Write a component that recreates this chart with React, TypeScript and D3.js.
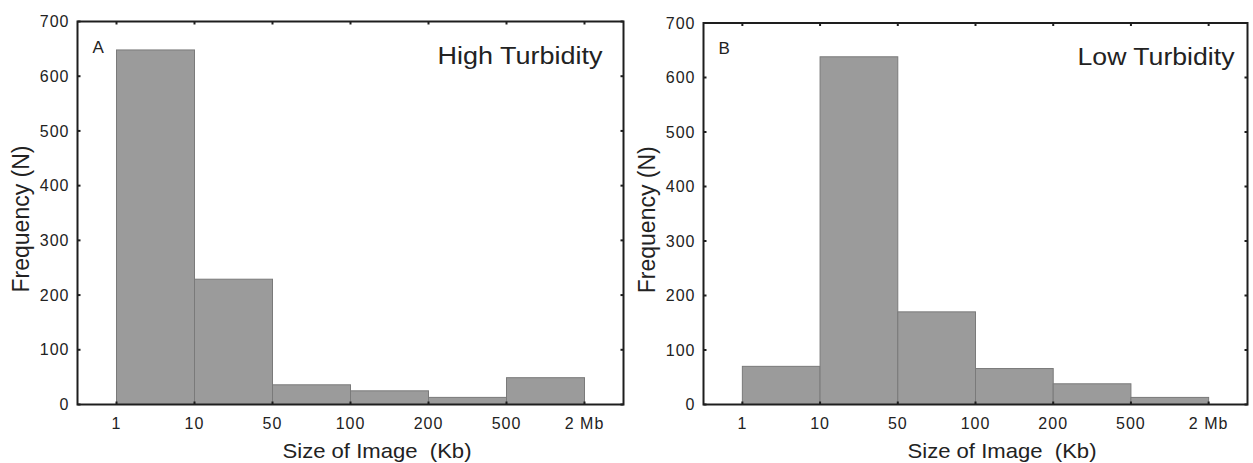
import React from 'react';
import * as d3 from 'd3';

// bin edges shown on the x axis
const sizeLabels = ['1', '10', '50', '100', '200', '500', '2 Mb'];
// counts per bin (between consecutive edges)
const highTurbidity = [648, 229, 36, 25, 13, 49];
const lowTurbidity = [70, 638, 170, 66, 38, 13];
const yTicks = [0, 100, 200, 300, 400, 500, 600, 700];

const FONT = 'Arial, "Liberation Sans", sans-serif';

type PanelProps = {
    values: number[];
    letter: string;
    title: string;
    titleWidth: number;
    left: number;
    right: number;
    top: number;
    bottom: number;
    titleGap: number;
};

function Panel({ values, letter, title, titleWidth, left, right, top, bottom, titleGap }: PanelProps) {
    const x = d3.scaleLinear().domain([-0.5, sizeLabels.length - 0.5]).range([left, right]);
    const y = d3.scaleLinear().domain([0, 700]).range([bottom, top]);
    const tick = 3;

    return (
        <g fontFamily={FONT} fill="#222">
            {/* bars */}
            {values.map((v, i) => (
                <rect
                    key={i}
                    x={x(i)}
                    y={y(v)}
                    width={x(i + 1) - x(i)}
                    height={y(0) - y(v)}
                    fill="#9b9b9b"
                    stroke="#7a7a7a"
                    strokeWidth={1}
                />
            ))}

            {/* frame */}
            <rect x={left} y={top} width={right - left} height={bottom - top}
                fill="none" stroke="#1e1e1e" strokeWidth={2} />

            {/* x ticks, top and bottom, pointing inward */}
            {sizeLabels.map((lab, i) => (
                <g key={lab}>
                    <line x1={x(i)} x2={x(i)} y1={bottom} y2={bottom - tick} stroke="#1e1e1e" strokeWidth={2} />
                    <line x1={x(i)} x2={x(i)} y1={top} y2={top + tick} stroke="#1e1e1e" strokeWidth={2} />
                    <text x={x(i)} y={y(0) + 24} textAnchor="middle" fontSize={16} letterSpacing={1}>{lab}</text>
                </g>
            ))}

            {/* y ticks, left and right */}
            {yTicks.map(t => (
                <g key={t}>
                    <line x1={left} x2={left + tick} y1={y(t)} y2={y(t)} stroke="#1e1e1e" strokeWidth={2} />
                    <line x1={right} x2={right - tick} y1={y(t)} y2={y(t)} stroke="#1e1e1e" strokeWidth={2} />
                    <text x={left - 8} y={y(t)} dy="0.35em" textAnchor="end" fontSize={16} letterSpacing={1}>{t}</text>
                </g>
            ))}

            <text x={left + 15} y={top + 31} fontSize={17}>{letter}</text>
            <text x={right - titleGap - titleWidth} y={top + 42} fontSize={23}
                textLength={titleWidth} lengthAdjust="spacingAndGlyphs">{title}</text>

            <text x={(left + right) / 2 + 26 - 94} y={bottom + 53} fontSize={21}
                textLength={189} lengthAdjust="spacingAndGlyphs"
                style={{ whiteSpace: 'pre' }}>{'Size of Image  (Kb)'}</text>
            <text transform={`translate(${left - 57},${(top + bottom) / 2 + 6}) rotate(-90)`}
                textAnchor="middle" dy="0.35em" fontSize={23}>Frequency (N)</text>
        </g>
    );
}

export default function App() {
    return (
        <svg width={1253} height={463} style={{ position: 'absolute', left: 0, top: 0, background: '#fff' }}>
            <rect width={1253} height={463} fill="#fff" />
            <Panel values={highTurbidity} letter="A" title="High Turbidity" titleWidth={165}
                left={77.5} right={623.5} top={21.5} bottom={404.5} titleGap={21} />
            <Panel values={lowTurbidity} letter="B" title="Low Turbidity" titleWidth={157}
                left={703.5} right={1247.5} top={23} bottom={404.5} titleGap={13} />
        </svg>
    );
}
